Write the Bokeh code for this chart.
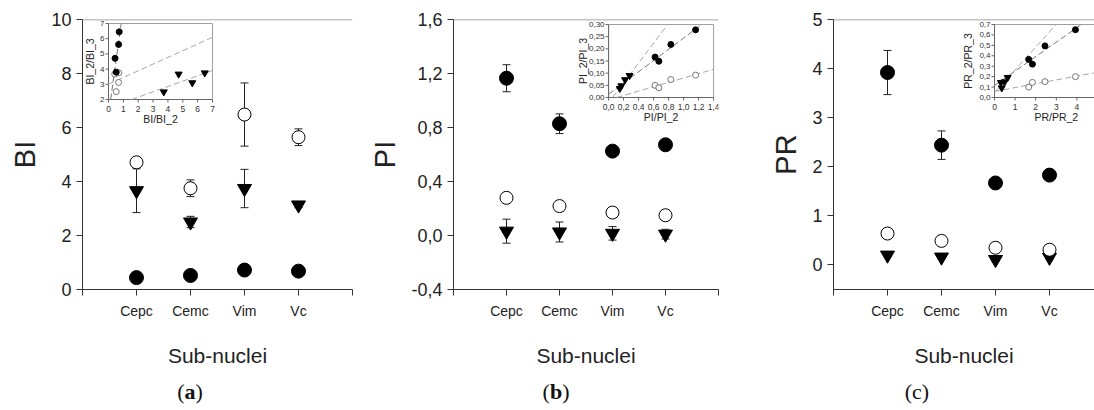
import numpy as np
from bokeh.plotting import figure
from bokeh.layouts import row, column
from bokeh.models import Range1d, FixedTicker, CustomJSTickFormatter, Span, Div
from bokeh.core.properties import value
from bokeh.embed import file_html
from bokeh.resources import INLINE

FONT = "Liberation Sans"

# ---------------- data ----------------
categories = ["Cepc", "Cemc", "Vim", "Vc"]
positions = [1, 2, 3, 4]

# BI
bi_filled = [0.44, 0.52, 0.72, 0.68]
bi_filled_err = [0.04, 0.04, 0.05, 0.04]
bi_open = [4.71, 3.75, 6.48, 5.64]
bi_open_err = [0.10, 0.31, 1.17, 0.31]
bi_tri = [3.66, 2.50, 3.74, 3.13]
bi_tri_err = [0.81, 0.21, 0.71, 0.10]

# PI
pi_filled = [1.165, 0.828, 0.625, 0.672]
pi_filled_err = [0.10, 0.073, 0.02, 0.02]
pi_open = [0.279, 0.218, 0.170, 0.150]
pi_open_err = [0.02, 0.02, 0.02, 0.02]
pi_tri = [0.032, 0.026, 0.016, 0.010]
pi_tri_err = [0.089, 0.074, 0.050, 0.036]

# PR
pr_filled = [3.92, 2.44, 1.67, 1.83]
pr_filled_err = [0.45, 0.29, 0.09, 0.05]
pr_open = [0.64, 0.49, 0.35, 0.31]
pr_open_err = [0.03, 0.03, 0.03, 0.03]
pr_tri = [0.20, 0.16, 0.11, 0.155]
pr_tri_err = [0.03, 0.03, 0.03, 0.03]

# inset pairs (x, y) per series
bi_in_filled_x = [0.44, 0.52, 0.72, 0.68]
bi_in_filled_y = [4.71, 3.80, 6.45, 5.62]
bi_in_open_x = [0.42, 0.52, 0.70, 0.68]
bi_in_open_y = [3.67, 2.52, 3.75, 3.12]
bi_in_tri_x = [4.72, 3.72, 6.48, 5.64]
bi_in_tri_y = [3.67, 2.50, 3.75, 3.10]

pi_in_filled_x = [1.16, 0.83, 0.62, 0.67]
pi_in_filled_y = [0.278, 0.218, 0.166, 0.149]
pi_in_open_x = [1.16, 0.83, 0.62, 0.67]
pi_in_open_y = [0.092, 0.074, 0.050, 0.040]
pi_in_tri_x = [0.28, 0.22, 0.17, 0.15]
pi_in_tri_y = [0.090, 0.073, 0.048, 0.037]

pr_in_filled_x = [3.93, 2.45, 1.66, 1.84]
pr_in_filled_y = [0.650, 0.495, 0.365, 0.320]
pr_in_open_x = [3.93, 2.45, 1.66, 1.84]
pr_in_open_y = [0.200, 0.152, 0.100, 0.145]
pr_in_tri_x = [0.64, 0.49, 0.35, 0.31]
pr_in_tri_y = [0.192, 0.150, 0.092, 0.143]

FRAME_H = 270


def comma(v, nd):
    return f"{v:.{nd}f}".replace(".", ",")


def clip_fit(xs, ys, xlim, ylim):
    m, b = np.polyfit(xs, ys, 1)
    x0, x1 = xlim
    if m != 0:
        xa, xb = sorted([(ylim[0] - b) / m, (ylim[1] - b) / m])
        x0, x1 = max(x0, xa), min(x1, xb)
    return [x0, x1], [m * x0 + b, m * x1 + b]


def error_bars(p, xs, ys, errs):
    lo = [y - e for y, e in zip(ys, errs)]
    hi = [y + e for y, e in zip(ys, errs)]
    p.segment(x0=xs, y0=lo, x1=xs, y1=hi, line_color="#222222", line_width=1)
    p.scatter(xs + xs, lo + hi, marker="dash", size=8, line_color="#222222", line_width=1)


def draw_inset(p, frame_w, box, xlim, ylim, xticks, yticks, xlabels, ylabels,
               xlabel, ylabel, ytitle_off, series):
    l, t, r, b = box
    sx = (r - l) / (xlim[1] - xlim[0])
    sy = (b - t) / (ylim[1] - ylim[0])
    p.extra_x_ranges = {"ins": Range1d(xlim[0] - l / sx, xlim[1] + (frame_w - r) / sx)}
    p.extra_y_ranges = {"ins": Range1d(ylim[0] - (FRAME_H - b) / sy, ylim[1] + t / sy)}
    kw = dict(x_range_name="ins", y_range_name="ins")

    p.quad(left=[xlim[0]], right=[xlim[1]], bottom=[ylim[0]], top=[ylim[1]],
           fill_color="white", line_color="#a0a0a0", line_width=1, **kw)
    p.line([xlim[0], xlim[0], xlim[1]], [ylim[1], ylim[0], ylim[0]],
           line_color="#666666", line_width=1, **kw)
    # ticks on the inset axes
    p.segment(x0=xticks, y0=[ylim[0]] * len(xticks), x1=xticks,
              y1=[ylim[0] - 3 / sy] * len(xticks), line_color="#666666", **kw)
    p.segment(x0=[xlim[0]] * len(yticks), y0=yticks, x1=[xlim[0] - 3 / sx] * len(yticks),
              y1=yticks, line_color="#666666", **kw)
    # only label ticks that fall inside the visible frame
    x_hi = p.extra_x_ranges["ins"].end
    shown = [(v, s) for v, s in zip(xticks, xlabels) if v <= x_hi - 4 / sx]
    tf = value(FONT)
    p.text(x=[v for v, _ in shown], y=[ylim[0]] * len(shown), text=[s for _, s in shown],
           text_font=tf, text_font_size="8.5px", text_color="#333333",
           text_align="center", text_baseline="middle", y_offset=9, **kw)
    p.text(x=[xlim[0]] * len(yticks), y=yticks, text=ylabels, text_font=tf,
           text_font_size="8px", text_color="#333333", text_align="right",
           text_baseline="middle", x_offset=-4, **kw)
    p.text(x=[(xlim[0] + xlim[1]) / 2], y=[ylim[0]], text=[xlabel], text_font=tf,
           text_font_size="10.5px", text_color="#222222", text_align="center",
           text_baseline="middle", y_offset=19, **kw)
    p.text(x=[xlim[0]], y=[(ylim[0] + ylim[1]) / 2], text=[ylabel], text_font=tf,
           text_font_size="10.5px", text_color="#222222", text_align="center",
           text_baseline="middle", angle=np.pi / 2, x_offset=ytitle_off, **kw)

    (fx, fy), (ox, oy), (tx, ty) = series
    # linear fits of each series
    for xs, ys, col in ((fx, fy, "#777777"), (ox, oy, "#a8a8a8"), (tx, ty, "#a8a8a8")):
        lx, ly = clip_fit(xs, ys, xlim, ylim)
        p.line(lx, ly, line_color=col, line_width=1, line_dash="6 3", **kw)
    p.scatter(ox, oy, marker="circle", size=6, fill_color="white", line_color="#555555",
              line_width=0.8, **kw)
    p.scatter(tx, ty, marker="inverted_triangle", size=7, fill_color="black",
              line_color="black", **kw)
    p.scatter(fx, fy, marker="circle", size=6, fill_color="black", line_color="black", **kw)


def panel(ylabel, ylim, yticks, yformatter, data, border_left, border_right, frame_w, xend):
    p = figure(width=border_left + frame_w + border_right, height=FRAME_H + 19 + 86,
               x_range=Range1d(0, xend), y_range=Range1d(*ylim),
               output_backend="svg", toolbar_location=None,
               min_border_left=border_left, min_border_right=border_right,
               min_border_top=19, min_border_bottom=86)
    p.outline_line_color = None
    p.grid.visible = False
    p.background_fill_color = "white"
    p.border_fill_color = "white"

    p.xaxis.ticker = FixedTicker(ticks=[0, 1, 2, 3, 4, 5])
    overrides = {0: "", 5: ""}
    overrides.update({pos: c for pos, c in zip(positions, categories)})
    p.xaxis.major_label_overrides = overrides
    p.yaxis.ticker = FixedTicker(ticks=yticks)
    if yformatter is not None:
        p.yaxis.formatter = yformatter

    for ax in (p.xaxis[0], p.yaxis[0]):
        ax.axis_line_color = "#333333"
        ax.axis_line_width = 1
        ax.major_tick_line_color = "#333333"
        ax.major_tick_in = 0
        ax.major_tick_out = 6
        ax.minor_tick_line_color = None
        ax.major_label_text_font = FONT
        ax.major_label_text_color = "#222222"
        ax.axis_label_text_font = FONT
        ax.axis_label_text_font_style = "normal"
        ax.axis_label_text_color = "#222222"
    p.yaxis.major_label_text_font_size = "18px"
    p.yaxis.major_label_standoff = 5
    p.yaxis.axis_label = ylabel
    p.yaxis.axis_label_text_font_size = "29px"
    p.yaxis.axis_label_standoff = 7
    p.xaxis.major_label_text_font_size = "14px"
    p.xaxis.major_label_standoff = 7
    p.xaxis.axis_label = "Sub-nuclei"
    p.xaxis.axis_label_text_font_size = "21px"
    p.xaxis.axis_label_standoff = 22

    p.add_layout(Span(location=ylim[1], dimension="width", line_color="#8a8a8a", line_width=1.5))

    filled, filled_err, opn, opn_err, tri, tri_err = data
    error_bars(p, positions, tri, tri_err)
    error_bars(p, positions, opn, opn_err)
    error_bars(p, positions, filled, filled_err)
    p.scatter(positions, tri, marker="inverted_triangle", size=14, fill_color="black",
              line_color="black")
    p.scatter(positions, opn, marker="circle", size=13, fill_color="white",
              line_color="black", line_width=1)
    p.scatter(positions, filled, marker="circle", size=14, fill_color="black",
              line_color="black")
    return p


# (a) BI
pa = panel("BI", (0, 10), [0, 2, 4, 6, 8, 10], None,
           (bi_filled, bi_filled_err, bi_open, bi_open_err, bi_tri, bi_tri_err),
           82, 14, 270, 5)
draw_inset(pa, 270, (26, 4, 130, 80), (0, 7), (2, 7),
           list(range(0, 8)), list(range(2, 8)),
           [str(v) for v in range(0, 8)], [str(v) for v in range(2, 8)],
           "BI/BI_2", "BI_2/BI_3", -19,
           ((bi_in_filled_x, bi_in_filled_y), (bi_in_open_x, bi_in_open_y),
            (bi_in_tri_x, bi_in_tri_y)))

# (b) PI
pb = panel("PI", (-0.4, 1.6), [-0.4, 0.0, 0.4, 0.8, 1.2, 1.6],
           CustomJSTickFormatter(code="return tick.toFixed(1).replace('.', ',');"),
           (pi_filled, pi_filled_err, pi_open, pi_open_err, pi_tri, pi_tri_err),
           82, 13, 270, 5)
pi_xt = [0.2 * i for i in range(8)]
pi_yt = [0.05 * i for i in range(7)]
draw_inset(pb, 270, (158, 5, 265, 78), (0, 1.4), (0, 0.30),
           pi_xt, pi_yt, [comma(v, 1) for v in pi_xt], [comma(v, 2) for v in pi_yt],
           "PI/PI_2", "PI_2/PI_3", -26,
           ((pi_in_filled_x, pi_in_filled_y), (pi_in_open_x, pi_in_open_y),
            (pi_in_tri_x, pi_in_tri_y)))

# (c) PR
pc = panel("PR", (-0.5, 5), [0, 1, 2, 3, 4, 5], None,
           (pr_filled, pr_filled_err, pr_open, pr_open_err, pr_tri, pr_tri_err),
           102, 0, 261, 261 / 54)
pr_xt = list(range(0, 7))
pr_yt = [0.1 * i for i in range(8)]
draw_inset(pc, 261, (161, 5, 161 + 6 * 20.6, 78), (0, 6), (0, 0.7),
           pr_xt, pr_yt, [str(v) for v in pr_xt], [comma(v, 1) for v in pr_yt],
           "PR/PR_2", "PR_2/PR_3", -27,
           ((pr_in_filled_x, pr_in_filled_y), (pr_in_open_x, pr_in_open_y),
            (pr_in_tri_x, pr_in_tri_y)))


def caption(html, width, pad):
    return Div(text=html, width=width, height=35, margin=0,
               styles={"font-family": "'Liberation Serif', serif", "font-size": "22px",
                       "text-align": "center", "line-height": "34px",
                       "padding-left": f"{pad}px", "color": "#111111"})


captions = row(caption("(<b>a</b>)", 380, 0), caption("(<b>b</b>)", 352, 0),
               caption("(c)", 362, 8))
layout = column(row(pa, pb, pc), captions)

open("out.html", "w").write(file_html(layout, INLINE))
